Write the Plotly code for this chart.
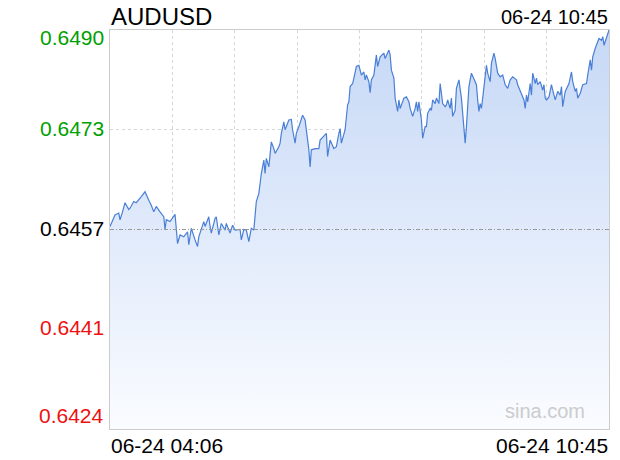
import pandas as pd
import plotly.graph_objects as go

symbol = "AUDUSD"
start_time = "2024-06-24 04:06"
end_time = "2024-06-24 10:45"
start_label = "06-24 04:06"
end_label = "06-24 10:45"
prev_close = 0.64570
tick_values = [0.64898, 0.64734, 0.64570, 0.64406, 0.64242]
tick_labels = ["0.6490", "0.6473", "0.6457", "0.6441", "0.6424"]
watermark = "sina.com"

minutes = [
    0, 4, 7, 8, 10, 12, 15, 16, 19, 21, 25, 28, 31, 33, 35, 37, 40, 43, 44, 45,
    48, 51, 52, 54, 56, 59, 62, 63, 65, 68, 70, 71, 72, 75, 76, 79, 80, 81, 84, 85,
    87, 89, 92, 93, 96, 98, 100, 104, 105, 107, 109, 111, 113, 115, 117, 119, 121, 123, 124, 125,
    127, 128, 129, 131, 132, 135, 136, 137, 139, 140, 143, 145, 146, 148, 149, 151, 154, 156, 159, 160,
    161, 164, 167, 168, 171, 173, 174, 176, 179, 181, 183, 184, 185, 188, 190, 191, 192, 194, 195, 197,
    199, 201, 203, 204, 205, 207, 208, 209, 211, 213, 214, 216, 219, 220, 223, 224, 225, 227, 228, 230,
    231, 232, 235, 237, 239, 240, 242, 244, 245, 246, 247, 249, 250, 252, 253, 254, 256, 257, 258, 260,
    261, 263, 264, 266, 268, 269, 270, 272, 273, 274, 276, 277, 279, 281, 282, 284, 285, 287, 289, 291,
    293, 294, 295, 296, 297, 298, 300, 301, 302, 304, 305, 307, 308, 310, 312, 314, 315, 316, 318, 320,
    322, 325, 326, 329, 331, 332, 333, 334, 336, 337, 338, 340, 341, 342, 344, 346, 347, 348, 349, 351,
    353, 354, 356, 358, 360, 361, 362, 364, 365, 367, 369, 370, 372, 373, 374, 376, 378, 381, 382, 384,
    385, 386, 388, 390, 391, 393, 394, 395, 397, 398, 399,
]

prices = [
    0.64575, 0.64594, 0.64597, 0.64586, 0.64599, 0.64614, 0.64603, 0.64605, 0.64616, 0.64614,
    0.64624, 0.64632, 0.64618, 0.64610, 0.64599, 0.64608, 0.64599, 0.64591, 0.64570, 0.64586,
    0.64583, 0.64591, 0.64595, 0.64547, 0.64561, 0.64558, 0.64566, 0.64545, 0.64572, 0.64553,
    0.64542, 0.64558, 0.64564, 0.64583, 0.64575, 0.64591, 0.64575, 0.64564, 0.64588, 0.64591,
    0.64561, 0.64580, 0.64569, 0.64580, 0.64564, 0.64577, 0.64569, 0.64570, 0.64553, 0.64570,
    0.64569, 0.64550, 0.64572, 0.64569, 0.64616, 0.64629, 0.64662, 0.64684, 0.64662, 0.64687,
    0.64673, 0.64695, 0.64714, 0.64703, 0.64695, 0.64706, 0.64712, 0.64728, 0.64747, 0.64734,
    0.64750, 0.64751, 0.64734, 0.64712, 0.64728, 0.64739, 0.64758, 0.64750, 0.64701, 0.64673,
    0.64701, 0.64703, 0.64703, 0.64717, 0.64723, 0.64728, 0.64690, 0.64717, 0.64703, 0.64706,
    0.64728, 0.64736, 0.64712, 0.64734, 0.64775, 0.64780, 0.64805, 0.64810, 0.64819, 0.64838,
    0.64840, 0.64824, 0.64829, 0.64816, 0.64824, 0.64813, 0.64795, 0.64816, 0.64824, 0.64857,
    0.64838, 0.64854, 0.64860, 0.64851, 0.64865, 0.64857, 0.64832, 0.64819, 0.64786, 0.64764,
    0.64783, 0.64769, 0.64786, 0.64788, 0.64780, 0.64769, 0.64756, 0.64769, 0.64780, 0.64764,
    0.64780, 0.64750, 0.64720, 0.64739, 0.64739, 0.64761, 0.64769, 0.64766, 0.64783, 0.64777,
    0.64786, 0.64777, 0.64810, 0.64777, 0.64772, 0.64775, 0.64783, 0.64769, 0.64786, 0.64756,
    0.64766, 0.64802, 0.64816, 0.64786, 0.64761, 0.64712, 0.64739, 0.64805, 0.64827, 0.64816,
    0.64808, 0.64783, 0.64764, 0.64777, 0.64769, 0.64786, 0.64816, 0.64840, 0.64827, 0.64813,
    0.64843, 0.64860, 0.64851, 0.64827, 0.64821, 0.64824, 0.64816, 0.64808, 0.64802, 0.64816,
    0.64821, 0.64816, 0.64808, 0.64794, 0.64783, 0.64769, 0.64791, 0.64780, 0.64810, 0.64791,
    0.64827, 0.64810, 0.64819, 0.64808, 0.64813, 0.64799, 0.64808, 0.64786, 0.64783, 0.64788,
    0.64808, 0.64799, 0.64783, 0.64797, 0.64791, 0.64805, 0.64772, 0.64797, 0.64802, 0.64810,
    0.64829, 0.64813, 0.64797, 0.64802, 0.64786, 0.64794, 0.64808, 0.64810, 0.64824, 0.64849,
    0.64832, 0.64854, 0.64868, 0.64879, 0.64884, 0.64881, 0.64887, 0.64873, 0.64887, 0.64895,
    0.64898,
]

FONT = "Liberation Sans, Arial, Helvetica, sans-serif"
t0 = pd.Timestamp(start_time)
times = [t0 + pd.Timedelta(minutes=m) for m in minutes]
y_lo, y_hi = min(tick_values), max(tick_values)

fig = go.Figure()
fig.add_trace(go.Scatter(
    x=times, y=prices, mode="lines",
    line=dict(color="#4a7fd6", width=1.2),
    fill="tozeroy",
    fillgradient=dict(type="vertical", start=y_lo, stop=y_hi,
                      colorscale=[[0, "rgb(250,252,255)"], [1, "rgb(198,216,246)"]]),
    hoverinfo="skip", showlegend=False,
))

span_ms = (pd.Timestamp(end_time) - t0).total_seconds() * 1000
fig.update_xaxes(
    type="date", range=[t0, pd.Timestamp(end_time)],
    tick0=t0, dtick=span_ms / 8,
    showticklabels=False, ticks="",
    showgrid=True, gridcolor="#d6d6d6", griddash="dot", gridwidth=1,
    showline=True, linecolor="#cccccc", linewidth=1, mirror=True, zeroline=False,
)
fig.update_yaxes(
    range=[y_lo, y_hi],
    tickvals=[v for v in tick_values if v != prev_close],
    showticklabels=False, ticks="",
    showgrid=True, gridcolor="#d6d6d6", griddash="dot", gridwidth=1,
    showline=True, linecolor="#cccccc", linewidth=1, mirror=True, zeroline=False,
)

fig.add_shape(type="line", xref="paper", x0=0, x1=1, yref="y", y0=prev_close, y1=prev_close,
              line=dict(color="#9a9a9a", width=1, dash="4px,2px,1px,2px"), layer="above")

anns = []
n = len(tick_values)
for i, (v, lab) in enumerate(zip(tick_values, tick_labels)):
    if v > prev_close:
        col = "#00a000"
    elif v < prev_close:
        col = "#ee1111"
    else:
        col = "#000000"
    if i == 0:
        ys = -7.5
    elif i == n - 1:
        ys = 13.5
    else:
        ys = 1.5
    anns.append(dict(xref="paper", x=0, xanchor="right", xshift=-5, yref="y", y=v,
                     yanchor="middle", yshift=ys, text=lab, showarrow=False,
                     font=dict(family=FONT, size=21, color=col)))

anns += [
    dict(xref="paper", x=0, xanchor="left", yref="paper", y=1.0338, yanchor="middle",
         text=symbol, showarrow=False, font=dict(family=FONT, size=24, color="#000")),
    dict(xref="paper", x=1, xanchor="right", yref="paper", y=1.0326, yanchor="middle",
         text=end_label, showarrow=False, font=dict(family=FONT, size=20, color="#000")),
    dict(xref="paper", x=0, xanchor="left", yref="paper", y=-0.0414, yanchor="middle",
         text=start_label, showarrow=False, font=dict(family=FONT, size=21, color="#000")),
    dict(xref="paper", x=1, xanchor="right", yref="paper", y=-0.0414, yanchor="middle",
         text=end_label, showarrow=False, font=dict(family=FONT, size=21, color="#000")),
    dict(xref="paper", x=0.954, xanchor="right", yref="paper", y=0.0451, yanchor="middle",
         text=watermark, showarrow=False, font=dict(family=FONT, size=20, color="#cccccc")),
]
for a in anns:
    a["borderpad"] = 0

fig.update_layout(
    width=620, height=460,
    margin=dict(l=110, r=11, t=30, b=31),
    paper_bgcolor="white", plot_bgcolor="white",
    annotations=anns, showlegend=False,
)
fig.write_html("out.html", config={"displayModeBar": False},
               post_script="document.body.style.margin='0';document.body.style.overflow='hidden';")
